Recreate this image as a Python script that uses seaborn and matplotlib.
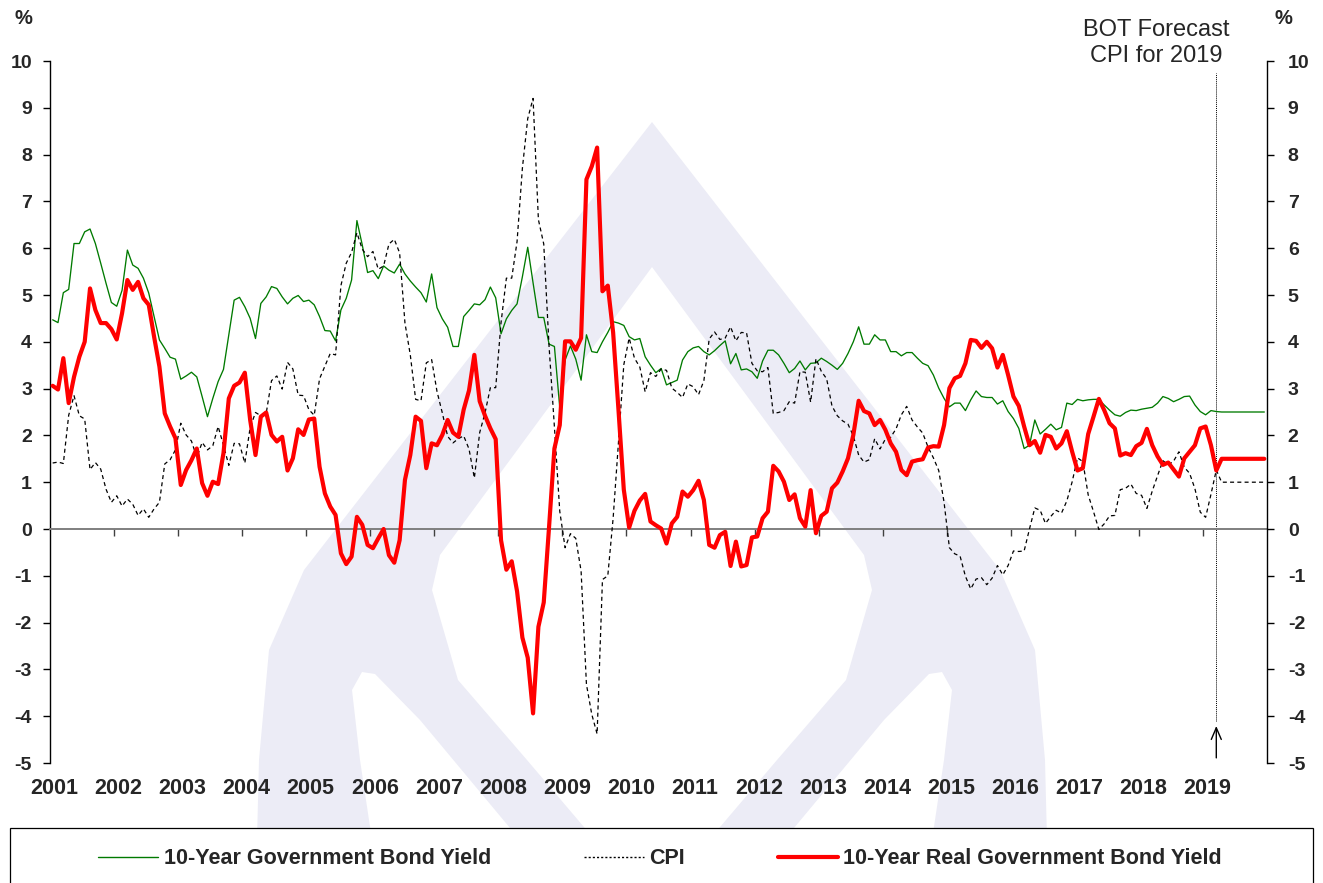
import numpy as np
import pandas as pd
import matplotlib
matplotlib.use("Agg")
import matplotlib.pyplot as plt
import seaborn as sns
from matplotlib.patches import Polygon, Rectangle
from matplotlib.lines import Line2D

# ---------------- data (monthly, Jan 2001 - Dec 2019) ----------------
years = list(range(2001, 2020))

bond_yield = [
    4.47, 4.41, 5.05, 5.12, 6.10, 6.10, 6.35, 6.41, 6.10, 5.68, 5.25, 4.84,   # 2001
    4.76, 5.10, 5.96, 5.64, 5.57, 5.36, 5.04, 4.54, 4.04, 3.86, 3.67, 3.63,   # 2002
    3.20, 3.27, 3.35, 3.25, 2.83, 2.40, 2.79, 3.15, 3.41, 4.15, 4.89, 4.95,   # 2003
    4.75, 4.50, 4.07, 4.82, 4.96, 5.18, 5.14, 4.96, 4.81, 4.93, 4.99, 4.86,   # 2004
    4.89, 4.79, 4.54, 4.24, 4.23, 4.02, 4.68, 4.93, 5.32, 6.59, 6.07, 5.48,   # 2005
    5.52, 5.35, 5.62, 5.53, 5.47, 5.66, 5.45, 5.30, 5.17, 5.05, 4.85, 5.45,   # 2006
    4.73, 4.49, 4.31, 3.90, 3.90, 4.54, 4.67, 4.81, 4.79, 4.90, 5.17, 4.94,   # 2007
    4.17, 4.49, 4.67, 4.81, 5.39, 6.02, 5.26, 4.52, 4.52, 3.95, 3.90, 2.60,   # 2008
    3.61, 3.91, 3.63, 3.18, 4.15, 3.79, 3.77, 4.00, 4.20, 4.43, 4.40, 4.35,   # 2009
    4.11, 4.04, 4.07, 3.68, 3.50, 3.34, 3.43, 3.08, 3.13, 3.18, 3.61, 3.79,   # 2010
    3.87, 3.90, 3.79, 3.72, 3.81, 3.92, 4.02, 3.53, 3.75, 3.40, 3.42, 3.36,   # 2011
    3.22, 3.59, 3.82, 3.82, 3.72, 3.54, 3.34, 3.43, 3.59, 3.40, 3.54, 3.55,   # 2012
    3.65, 3.58, 3.50, 3.41, 3.54, 3.75, 4.00, 4.32, 3.95, 3.95, 4.15, 4.04,   # 2013
    4.04, 3.79, 3.79, 3.70, 3.77, 3.77, 3.65, 3.54, 3.49, 3.29, 3.01, 2.79,   # 2014
    2.61, 2.69, 2.69, 2.53, 2.76, 2.95, 2.83, 2.81, 2.81, 2.67, 2.74, 2.51,   # 2015
    2.36, 2.15, 1.72, 1.79, 2.33, 2.03, 2.13, 2.24, 2.12, 2.17, 2.69, 2.66,   # 2016
    2.77, 2.74, 2.76, 2.77, 2.77, 2.65, 2.54, 2.44, 2.41, 2.49, 2.54, 2.53,   # 2017
    2.56, 2.58, 2.60, 2.69, 2.83, 2.79, 2.72, 2.77, 2.83, 2.84, 2.65, 2.51,   # 2018
    2.44, 2.53, 2.51, 2.50, 2.50, 2.50, 2.50, 2.50, 2.50, 2.50, 2.50, 2.50,   # 2019
]

cpi = [
    1.41, 1.43, 1.40, 2.43, 2.85, 2.42, 2.35, 1.27, 1.42, 1.28, 0.85, 0.57,
    0.71, 0.49, 0.64, 0.53, 0.29, 0.43, 0.25, 0.43, 0.57, 1.39, 1.48, 1.69,
    2.26, 2.01, 1.88, 1.53, 1.85, 1.69, 1.78, 2.19, 1.79, 1.36, 1.83, 1.82,
    1.41, 2.17, 2.49, 2.42, 2.47, 3.17, 3.27, 2.99, 3.56, 3.42, 2.86, 2.85,
    2.55, 2.43, 3.21, 3.48, 3.75, 3.72, 5.20, 5.68, 5.91, 6.33, 5.98, 5.82,
    5.93, 5.55, 5.62, 6.09, 6.19, 5.90, 4.40, 3.72, 2.77, 2.74, 3.55, 3.62,
    2.94, 2.48, 1.98, 1.84, 1.93, 1.99, 1.71, 1.09, 2.06, 2.48, 3.02, 3.02,
    4.41, 5.36, 5.36, 6.14, 7.71, 8.77, 9.20, 6.61, 6.09, 3.90, 2.18, 0.38,
    -0.40, -0.10, -0.20, -0.90, -3.32, -3.96, -4.38, -1.08, -1.00, 0.23, 1.85, 3.51,
    4.08, 3.65, 3.46, 2.93, 3.34, 3.26, 3.42, 3.39, 3.01, 2.92, 2.81, 3.10,
    3.04, 2.87, 3.17, 4.06, 4.21, 4.05, 4.08, 4.32, 4.02, 4.20, 4.19, 3.54,
    3.38, 3.36, 3.45, 2.47, 2.49, 2.53, 2.72, 2.69, 3.36, 3.35, 2.71, 3.64,
    3.37, 3.21, 2.63, 2.42, 2.31, 2.24, 1.99, 1.58, 1.43, 1.48, 1.93, 1.71,
    1.92, 1.96, 2.14, 2.44, 2.62, 2.33, 2.18, 2.05, 1.75, 1.52, 1.25, 0.57,
    -0.40, -0.53, -0.58, -1.01, -1.28, -1.07, -1.04, -1.19, -1.05, -0.78, -0.98, -0.78,
    -0.47, -0.48, -0.47, 0.00, 0.45, 0.40, 0.12, 0.27, 0.40, 0.34, 0.60, 1.01,
    1.52, 1.44, 0.73, 0.37, -0.01, 0.11, 0.28, 0.29, 0.84, 0.87, 0.96, 0.76,
    0.72, 0.44, 0.81, 1.14, 1.46, 1.37, 1.45, 1.65, 1.32, 1.19, 0.86, 0.36,
    0.25, 0.74, 1.26, 1.00, 1.00, 1.00, 1.00, 1.00, 1.00, 1.00, 1.00, 1.00,
]

real_yield = [
    3.06, 2.98, 3.65, 2.69, 3.25, 3.68, 4.00, 5.14, 4.68, 4.40, 4.40, 4.27,
    4.05, 4.61, 5.32, 5.11, 5.28, 4.93, 4.79, 4.11, 3.47, 2.47, 2.19, 1.94,
    0.94, 1.26, 1.47, 1.72, 0.98, 0.71, 1.01, 0.96, 1.62, 2.79, 3.06, 3.13,
    3.34, 2.33, 1.58, 2.40, 2.49, 2.01, 1.87, 1.97, 1.25, 1.51, 2.13, 2.01,
    2.34, 2.36, 1.33, 0.76, 0.48, 0.30, -0.52, -0.75, -0.59, 0.26, 0.09, -0.34,
    -0.41, -0.20, 0.00, -0.56, -0.72, -0.24, 1.05, 1.58, 2.40, 2.31, 1.30, 1.83,
    1.79, 2.01, 2.33, 2.06, 1.97, 2.55, 2.96, 3.72, 2.73, 2.42, 2.15, 1.92,
    -0.24, -0.87, -0.69, -1.33, -2.32, -2.75, -3.94, -2.09, -1.57, 0.05, 1.72, 2.22,
    4.01, 4.01, 3.83, 4.08, 7.47, 7.75, 8.15, 5.08, 5.20, 4.20, 2.55, 0.84,
    0.03, 0.39, 0.61, 0.75, 0.16, 0.08, 0.01, -0.31, 0.12, 0.26, 0.80, 0.69,
    0.83, 1.03, 0.62, -0.34, -0.40, -0.13, -0.06, -0.79, -0.27, -0.80, -0.77, -0.18,
    -0.16, 0.23, 0.37, 1.35, 1.23, 1.01, 0.62, 0.74, 0.23, 0.05, 0.83, -0.09,
    0.28, 0.37, 0.87, 0.99, 1.23, 1.51, 2.01, 2.74, 2.52, 2.47, 2.22, 2.33,
    2.12, 1.83, 1.65, 1.26, 1.15, 1.44, 1.47, 1.49, 1.74, 1.77, 1.76, 2.22,
    3.01, 3.22, 3.27, 3.54, 4.04, 4.02, 3.87, 4.00, 3.86, 3.45, 3.72, 3.29,
    2.83, 2.63, 2.19, 1.79, 1.88, 1.63, 2.01, 1.97, 1.72, 1.83, 2.09, 1.65,
    1.25, 1.30, 2.03, 2.40, 2.78, 2.54, 2.26, 2.15, 1.57, 1.62, 1.58, 1.77,
    1.84, 2.14, 1.79, 1.55, 1.37, 1.42, 1.27, 1.12, 1.51, 1.65, 1.79, 2.15,
    2.19, 1.79, 1.25, 1.50, 1.50, 1.50, 1.50, 1.50, 1.50, 1.50, 1.50, 1.50,
]

forecast_start_month = 218          # March 2019 (index from Jan 2001)
series_names = ["10-Year Government Bond Yield", "CPI",
                "10-Year Real Government Bond Yield"]
y_ticks = list(range(-5, 11))
annotation_text = "BOT Forecast\nCPI for 2019"

# ---------------- styling ----------------
GREEN = "#007A00"
RED = "#FF0000"
LAV = "#ECECF6"

sns.set_theme(style="white")
plt.rcParams["font.family"] = ["Liberation Sans", "DejaVu Sans"]

W, H = 1323, 883
fig = plt.figure(figsize=(W / 100, H / 100), dpi=100)
fig.patch.set_facecolor("white")


def P(x, y):
    return (x / W, 1 - y / H)


def mirror(pts):
    return [(1304 - x, y) for x, y in pts]


# watermark (background logo)
outer_l = [(652, 122), (304, 570), (269, 650), (259, 760), (257, 840)]
outer = outer_l + mirror(outer_l)[::-1][:-1]
outer = [P(x, y) for x, y in outer]
hole_l = [(652, 267), (440, 555), (432, 590), (458, 680), (527, 760), (595, 840)]
hole = hole_l + mirror(hole_l)[::-1][:-1]
hole = [P(x, y) for x, y in hole]
notch_l = [(362, 672), (352, 690), (360, 760), (372, 840), (520, 840),
           (470, 780), (420, 720), (375, 674)]
notch_r = mirror(notch_l)
fig.add_artist(Polygon(outer, closed=True, transform=fig.transFigure,
                       facecolor=LAV, edgecolor="none", zorder=-5))
for shape in (hole, [P(x, y) for x, y in notch_l], [P(x, y) for x, y in notch_r]):
    fig.add_artist(Polygon(shape, closed=True, transform=fig.transFigure,
                           facecolor="white", edgecolor="none", zorder=-4))

ax = fig.add_axes([50 / W, 1 - 763 / H, (1267 - 50) / W, (763 - 61) / H])
ax.set_facecolor("none")

n = len(bond_yield)
dates = 2001 + (np.arange(n) + 0.5) / 12.0
df = pd.DataFrame({"date": dates, "bond": bond_yield, "cpi": cpi, "real": real_yield})

sns.lineplot(data=df, x="date", y="bond", ax=ax, color=GREEN, linewidth=0.95,
             legend=False, zorder=3)
sns.lineplot(data=df, x="date", y="cpi", ax=ax, color="black", linewidth=0.9,
             legend=False, zorder=3)
ax.lines[-1].set_linestyle((0, (3.2, 2.6)))
sns.lineplot(data=df, x="date", y="real", ax=ax, color=RED, linewidth=3.0,
             legend=False, zorder=4)

ax.set_xlim(2001, 2020)
ax.set_ylim(-5, 10)
ax.set_xlabel("")
ax.set_ylabel("")

# zero line as bottom spine with year ticks
for s in ["top", "right"]:
    ax.spines[s].set_visible(False)
ax.spines["bottom"].set_position(("data", 0))
ax.spines["bottom"].set_color("#7F7F7F")
ax.spines["bottom"].set_linewidth(1.4)
ax.spines["left"].set_color("black")
ax.spines["left"].set_linewidth(1.0)
ax.set_xticks(years[1:])
ax.tick_params(axis="x", direction="out", length=5, width=1, color="#404040",
               labelbottom=False, bottom=True)
ax.set_yticks(y_ticks)
ax.set_yticklabels([str(t) for t in y_ticks], fontweight="bold", fontsize=14)
ax.tick_params(axis="y", direction="out", length=5, width=1, color="black",
               pad=8, left=True)

ax2 = ax.twinx()
ax2.set_ylim(-5, 10)
ax2.set_yticks(y_ticks)
ax2.set_yticklabels([str(t) for t in y_ticks], fontweight="bold", fontsize=14)
for s in ["top", "bottom", "left"]:
    ax2.spines[s].set_visible(False)
ax2.spines["right"].set_color("black")
ax2.spines["right"].set_linewidth(1.0)
ax2.tick_params(axis="y", direction="out", length=5, width=1, color="black",
                pad=10, right=True)
ax2.grid(False)
ax.grid(False)

# year labels under the plot
sec = ax.secondary_xaxis(0.0)
sec.set_xticks([y + 0.07 for y in years])
sec.set_xticklabels([str(y) for y in years], fontweight="bold", fontsize=15.5)
sec.tick_params(length=0, pad=11)
sec.spines["bottom"].set_visible(False)

# forecast marker
fx = dates[forecast_start_month]
ax.axvline(fx, ymin=(-4.1 + 5) / 15, ymax=(9.75 + 5) / 15, color="black",
           linewidth=0.7, linestyle=(0, (1, 1)), zorder=2)
ax.annotate("", xy=(fx, -4.15), xytext=(fx, -4.95),
            arrowprops=dict(arrowstyle="->,head_length=0.7,head_width=0.3",
                            color="black", lw=1.0), zorder=5)
fig.text(1156 / W, 1 - 43 / H, annotation_text, ha="center", va="center",
         fontsize=17, linespacing=1.25, multialignment="center")

fig.text(23 / W, 1 - 18 / H, "%", ha="center", va="center", fontsize=14.5,
         fontweight="bold")
fig.text(1283 / W, 1 - 18 / H, "%", ha="center", va="center", fontsize=14.5,
         fontweight="bold")

# legend box
fig.add_artist(Rectangle((10 / W, -0.02), 1303 / W, 0.02 + (883 - 828) / H,
                         transform=fig.transFigure, facecolor="white",
                         edgecolor="black", linewidth=0.9, zorder=1))
handles = [Line2D([], [], color=GREEN, lw=1.0),
           Line2D([], [], color="black", lw=1.0, linestyle=(0, (1.5, 1.5))),
           Line2D([], [], color=RED, lw=3.0)]
leg = fig.legend(handles, series_names, loc="center",
                 bbox_to_anchor=(660 / W, 1 - 859 / H), ncol=3, frameon=False,
                 prop=dict(weight="bold", size=15.5), handlelength=2.8,
                 handletextpad=0.25, columnspacing=4.3)
leg.set_zorder(6)

fig.savefig("out.png", dpi=100, facecolor="white")
